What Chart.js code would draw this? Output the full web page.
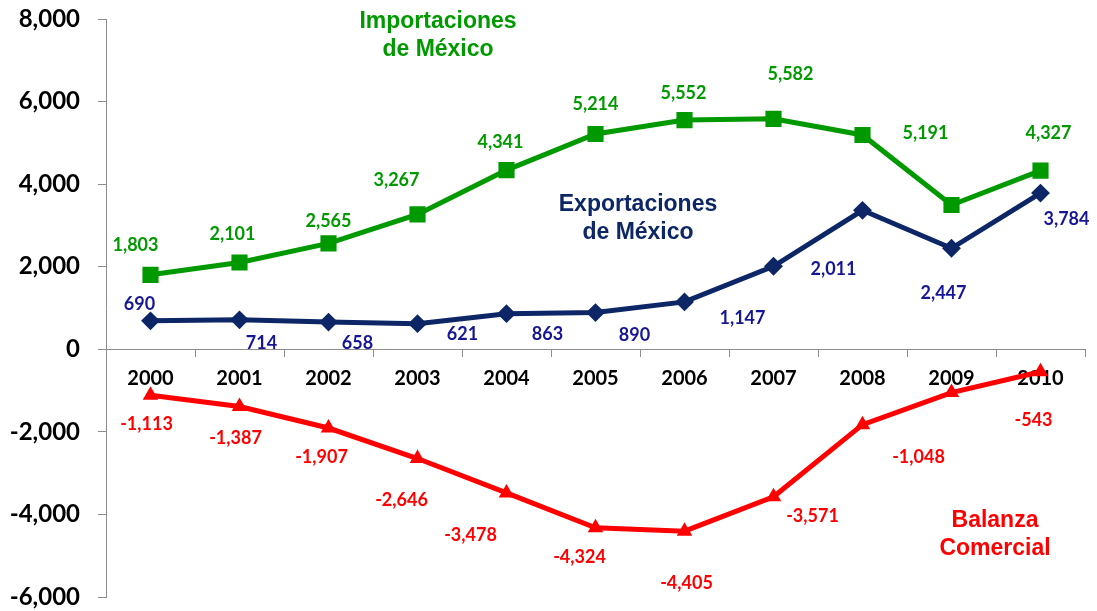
<!DOCTYPE html>
<html>
<head>
<meta charset="utf-8">
<script src="https://cdn.jsdelivr.net/npm/chart.js@4"></script>
<style>
  html, body { margin: 0; padding: 0; background: #fff; }
  #wrap { width: 1097px; height: 611px; }
</style>
</head>
<body>
<div id="wrap"><canvas id="grafico" width="1097" height="611"></canvas></div>
<script>
// datos (millones de dólares)
const anios = ['2000','2001','2002','2003','2004','2005','2006','2007','2008','2009','2010'];
const importaciones = [1803, 2101, 2565, 3267, 4341, 5214, 5552, 5582, 5191, 3495, 4327];
const exportaciones = [690, 714, 658, 621, 863, 890, 1147, 2011, 3366, 2447, 3784];
const balanza = [-1113, -1387, -1907, -2646, -3478, -4324, -4405, -3571, -1825, -1048, -543];
const ticksY = [-6000, -4000, -2000, 0, 2000, 4000, 6000, 8000];

// que puntos llevan etiqueta (el de 2009 en importaciones no aparece, 2008 en los otros tampoco)
const etiquetasImp = [1, 1, 1, 1, 1, 1, 1, 1, 1, 0, 1];
const etiquetasExp = [1, 1, 1, 1, 1, 1, 1, 1, 0, 1, 1];
const etiquetasBal = [1, 1, 1, 1, 1, 1, 1, 1, 0, 1, 1];

// desplazamientos de las etiquetas (px) respecto al punto
const offImp = [[-15,-30],[-7,-28],[0,-22],[-21,-34],[-6,-28],[0,-30],[-1,-27],[17,-45],[63,-2],[0,0],[8,-37]];
const offExp = [[-11,-17],[22,23],[29,21],[45,11],[41,21],[39,23],[58,16],[60,3],[0,0],[-8,45],[26,26]];
const offBal = [[-4,29],[-4,32],[-7,29],[-16,42],[-36,42],[-16,29],[2,52],[39,19],[0,0],[-33,65],[-7,48]];

const VERDE = 'rgb(0,153,0)';
const MARINO = 'rgb(12,38,102)';
const AZUL_TXT = 'rgb(22,22,150)';
const ROJO = 'rgb(255,0,0)';

const fmt = v => v.toLocaleString('en-US');

const etiquetasPlugin = {
    id: 'etiquetas',
    afterDatasetsDraw(chart) {
        const ctx = chart.ctx;
        const config = [
            { mostrar: etiquetasImp, off: offImp, color: VERDE },
            { mostrar: etiquetasExp, off: offExp, color: AZUL_TXT },
            { mostrar: etiquetasBal, off: offBal, color: ROJO }
        ];
        ctx.save();
        ctx.font = 'bold 18px Lato';
        ctx.textAlign = 'center';
        ctx.textBaseline = 'middle';
        chart.data.datasets.forEach((ds, i) => {
            const meta = chart.getDatasetMeta(i);
            const c = config[i];
            meta.data.forEach((pt, j) => {
                if (!c.mostrar[j]) return;
                ctx.fillStyle = c.color;
                ctx.fillText(fmt(ds.data[j]), pt.x + c.off[j][0], pt.y + c.off[j][1]);
            });
        });

        // nombres de las series
        ctx.font = 'bold 23px "Liberation Sans"';
        const titulos = [
            { t: ['Importaciones', 'de México'], x: 438, y: 22, color: VERDE },
            { t: ['Exportaciones', 'de México'], x: 638, y: 205, color: MARINO },
            { t: ['Balanza', 'Comercial'], x: 995, y: 521, color: ROJO }
        ];
        titulos.forEach(tt => {
            ctx.fillStyle = tt.color;
            tt.t.forEach((linea, k) => ctx.fillText(linea, tt.x, tt.y + k * 28));
        });
        ctx.restore();
    }
};

new Chart(document.getElementById('grafico'), {
    type: 'line',
    data: {
        labels: anios,
        datasets: [
            {
                label: 'Importaciones de México',
                data: importaciones,
                borderColor: VERDE,
                backgroundColor: VERDE,
                borderWidth: 5,
                pointStyle: 'rect',
                pointRadius: 10,
                pointBorderWidth: 2,
                tension: 0
            },
            {
                label: 'Exportaciones de México',
                data: exportaciones,
                borderColor: MARINO,
                backgroundColor: MARINO,
                borderWidth: 5,
                pointStyle: 'rectRot',
                pointRadius: 8,
                pointBorderWidth: 2,
                tension: 0
            },
            {
                label: 'Balanza Comercial',
                data: balanza,
                borderColor: ROJO,
                backgroundColor: ROJO,
                borderWidth: 5,
                pointStyle: 'triangle',
                pointRadius: 7,
                pointBorderWidth: 2,
                tension: 0
            }
        ]
    },
    options: {
        responsive: false,
        animation: false,
        layout: { padding: { left: 0, top: 19, right: 5, bottom: 14 } },
        plugins: {
            legend: { display: false },
            tooltip: { enabled: false }
        },
        scales: {
            x: {
                position: { y: 0 },
                offset: true,
                grid: {
                    display: true,
                    drawOnChartArea: false,
                    offset: true,
                    tickLength: 7,
                    color: '#8c8c8c'
                },
                border: { color: '#8c8c8c', width: 1 },
                ticks: {
                    color: '#000',
                    font: { family: 'Lato', weight: 'bold', size: 20 },
                    padding: 10,
                    maxRotation: 0
                }
            },
            y: {
                min: -6000,
                max: 8000,
                afterFit: s => { s.width = 106; s.paddingTop = 0; s.paddingBottom = 0; },
                afterBuildTicks: s => { s.ticks = ticksY.map(v => ({ value: v })); },
                grid: {
                    display: true,
                    drawOnChartArea: false,
                    tickLength: 8,
                    color: '#8c8c8c'
                },
                border: { color: '#8c8c8c', width: 1 },
                ticks: {
                    color: '#000',
                    font: { family: 'Lato', weight: 'bold', size: 24 },
                    padding: 18,
                    callback: v => fmt(v)
                }
            }
        }
    },
    plugins: [etiquetasPlugin]
});
</script>
</body>
</html>
